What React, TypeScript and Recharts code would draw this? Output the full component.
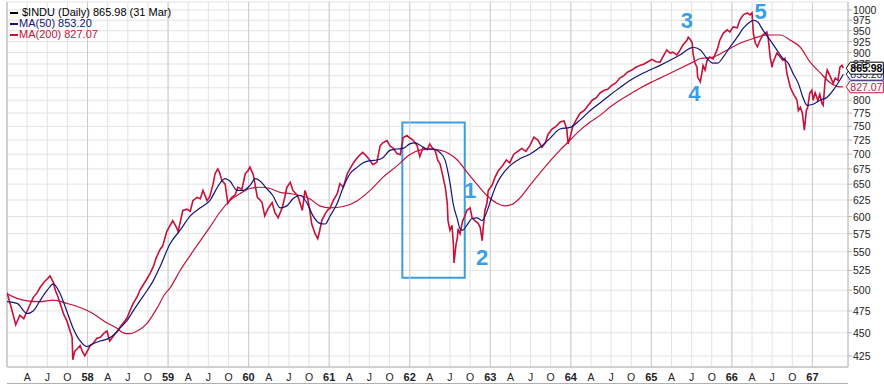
import React from 'react';
import {
  ComposedChart, Line, XAxis, YAxis, CartesianGrid, ReferenceLine, ReferenceArea, ReferenceDot,
} from 'recharts';

// x = months since Jan 1957, y = Dow Jones Industrial close
const induDaily: [number, number][] = [
  [0.0, 497], [0.6, 480], [1.3, 459], [1.9, 470], [2.5, 466], [3.0, 475], [3.4, 482], [3.9, 491],
  [4.5, 497], [4.9, 503], [5.5, 510], [6.0, 514], [6.4, 518], [6.9, 510], [7.2, 500], [7.6, 492],
  [7.9, 484], [8.5, 470], [8.9, 464], [9.4, 452], [9.7, 445], [9.8, 421], [10.1, 430], [10.4, 432],
  [10.9, 436], [11.2, 430], [11.6, 425], [12.1, 432], [12.4, 436], [12.8, 438], [13.4, 444], [13.9, 445],
  [14.5, 450], [14.9, 452], [15.3, 441], [15.8, 446], [16.1, 449], [16.5, 452], [16.8, 456], [17.4, 462],
  [17.9, 467], [18.3, 475], [18.8, 484], [19.4, 492], [19.8, 500], [20.4, 508], [20.9, 515], [21.3, 521],
  [21.8, 530], [22.2, 541], [22.8, 553], [23.2, 558], [23.8, 578], [24.3, 587], [24.7, 594], [25.2, 585],
  [25.5, 578], [25.9, 596], [26.2, 609], [26.8, 611], [27.3, 608], [27.7, 624], [28.3, 629], [28.8, 627],
  [29.2, 640], [29.8, 624], [30.2, 630], [30.7, 650], [31.0, 667], [31.4, 675], [31.7, 668], [32.0, 656],
  [32.5, 650], [32.9, 620], [33.2, 625], [33.5, 629], [34.0, 633], [34.4, 645], [35.0, 642], [35.5, 667],
  [35.9, 672], [36.2, 678], [36.7, 665], [37.3, 629], [37.7, 625], [38.0, 621], [38.4, 601], [38.9, 612],
  [39.5, 621], [39.9, 606], [40.4, 598], [41.0, 613], [41.4, 630], [41.7, 645], [42.2, 653], [42.6, 640],
  [43.1, 634], [43.4, 629], [44.0, 609], [44.4, 640], [44.8, 627], [45.1, 610], [45.4, 589], [45.9, 575],
  [46.3, 568], [46.6, 580], [46.9, 594], [47.4, 604], [47.8, 610], [48.1, 612], [48.6, 624], [49.2, 635],
  [49.6, 651], [50.1, 645], [50.7, 667], [51.1, 675], [51.6, 685], [52.2, 694], [52.6, 699], [53.0, 703],
  [53.6, 696], [54.1, 689], [54.5, 682], [55.1, 686], [55.6, 715], [56.0, 720], [56.6, 724], [57.1, 714],
  [57.5, 711], [58.1, 701], [58.6, 699], [59.0, 729], [59.6, 733], [60.0, 729], [60.5, 725], [61.1, 715],
  [61.5, 696], [62.0, 712], [62.6, 708], [63.0, 718], [63.3, 712], [63.8, 706], [64.2, 689], [64.5, 684],
  [64.8, 670], [65.3, 645], [65.6, 620], [65.7, 594], [66.0, 580], [66.3, 587], [66.5, 561], [66.6, 535],
  [66.9, 560], [67.1, 569], [67.2, 582], [67.5, 575], [67.8, 590], [67.9, 594], [68.2, 600], [68.5, 609],
  [69.0, 613], [69.3, 598], [69.7, 594], [70.2, 590], [70.5, 584], [70.8, 565], [70.9, 578], [71.2, 609],
  [71.5, 620], [71.7, 640], [72.3, 649], [72.7, 661], [73.2, 672], [73.8, 680], [74.4, 690], [74.9, 685],
  [75.5, 700], [76.1, 705], [76.7, 710], [77.3, 705], [77.9, 715], [78.5, 730], [79.1, 725], [79.7, 712],
  [80.2, 720], [80.6, 735], [81.2, 745], [81.8, 750], [82.4, 758], [83.0, 760], [83.4, 745], [83.6, 718],
  [83.9, 730], [84.3, 750], [84.8, 762], [85.4, 775], [86.0, 780], [86.6, 790], [87.2, 800], [87.8, 805],
  [88.4, 815], [89.0, 820], [89.5, 822], [90.1, 830], [90.7, 835], [91.3, 845], [91.9, 850], [92.5, 858],
  [93.1, 862], [93.7, 868], [94.3, 872], [94.9, 875], [95.5, 880], [96.1, 885], [96.7, 880], [97.3, 879],
  [97.7, 890], [98.3, 906], [98.8, 899], [99.2, 901], [99.8, 895], [100.3, 906], [100.7, 917], [101.3, 928],
  [101.5, 935], [101.8, 930], [102.1, 921], [102.2, 899], [102.5, 877], [102.8, 868], [102.9, 847], [103.3, 837],
  [103.6, 862], [103.7, 872], [104.0, 862], [104.3, 883], [104.7, 890], [105.2, 886], [105.8, 906], [106.2, 928],
  [106.7, 944], [107.3, 952], [107.7, 947], [108.2, 959], [108.8, 957], [109.2, 976], [109.7, 988], [110.3, 993],
  [110.7, 988], [111.0, 993], [111.2, 944], [111.5, 921], [111.8, 913], [112.2, 928], [112.6, 940], [113.2, 947],
  [113.4, 935], [113.7, 890], [114.0, 868], [114.1, 877], [114.7, 899], [115.2, 890], [115.6, 883], [115.9, 887],
  [116.2, 855], [116.7, 826], [117.1, 814], [117.7, 800], [117.9, 780], [118.2, 786], [118.5, 775], [118.8, 743],
  [119.1, 780], [119.3, 786], [119.6, 814], [119.9, 820], [120.1, 800], [120.4, 815], [120.8, 800], [121.1, 812],
  [121.4, 794], [121.6, 790], [121.9, 841], [122.2, 862], [122.6, 850], [123.1, 834], [123.4, 845], [123.8, 840],
  [124.1, 868], [124.4, 872], [124.6, 865.98],
];

const ma50: [number, number][] = [
  [0.0, 486], [1.5, 484], [3.0, 472], [3.9, 475], [4.9, 487], [6.0, 500], [6.9, 508], [7.9, 496],
  [8.9, 475], [9.8, 456], [10.9, 441], [11.9, 435], [12.8, 438], [13.9, 441], [14.9, 443], [15.8, 447],
  [16.8, 455], [17.9, 464], [18.8, 475], [19.8, 487], [20.9, 500], [21.8, 512], [22.8, 530], [24.3, 561],
  [25.8, 580], [27.3, 601], [28.8, 613], [30.2, 624], [31.7, 651], [32.5, 659], [33.2, 655], [34.3, 640],
  [35.2, 640], [36.2, 648], [37.0, 659], [37.7, 655], [38.7, 643], [39.6, 632], [40.7, 613], [41.7, 616],
  [42.6, 627], [43.7, 632], [44.7, 620], [45.6, 601], [46.6, 590], [47.4, 589], [48.1, 600], [49.2, 620],
  [50.1, 645], [51.1, 667], [52.2, 678], [53.0, 685], [54.1, 689], [55.1, 690], [56.0, 694], [57.1, 707],
  [58.1, 709], [59.0, 710], [60.0, 718], [60.8, 720], [61.5, 716], [62.6, 709], [63.5, 709], [64.5, 703],
  [65.3, 689], [65.6, 675], [66.0, 652], [66.5, 618], [67.1, 596], [67.5, 582], [67.9, 580], [68.5, 587],
  [69.3, 597], [70.0, 598], [70.8, 594], [71.2, 600], [71.7, 613], [72.3, 632], [73.0, 651], [73.5, 661],
  [74.9, 680], [76.4, 692], [77.9, 700], [79.4, 712], [80.9, 728], [82.4, 745], [83.9, 748], [85.4, 762],
  [86.9, 780], [88.4, 795], [89.8, 810], [91.3, 825], [92.8, 840], [94.3, 852], [95.8, 862], [97.3, 872],
  [98.8, 883], [100.3, 895], [101.8, 910], [102.2, 912], [103.3, 906], [104.3, 887], [105.2, 877], [105.9, 877],
  [106.7, 890], [107.7, 912], [108.8, 935], [109.7, 956], [110.7, 971], [111.2, 975], [111.9, 970], [112.6, 952],
  [113.7, 928], [114.7, 906], [115.6, 887], [116.4, 877], [117.1, 855], [117.9, 834], [118.6, 805], [119.2, 790],
  [120.1, 792], [121.1, 800], [122.2, 806], [123.1, 820], [124.1, 841], [124.6, 853.2],
];

const ma200: [number, number][] = [
  [0.0, 496], [1.5, 490], [3.0, 487], [4.9, 486], [6.9, 488], [8.9, 484], [10.9, 479], [12.8, 472],
  [14.9, 461], [16.4, 455], [17.3, 450], [18.3, 449], [19.4, 452], [20.9, 461], [22.4, 479], [23.5, 495],
  [24.3, 503], [25.8, 525], [27.3, 545], [28.8, 565], [30.2, 584], [31.7, 606], [33.2, 624], [34.7, 635],
  [36.2, 643], [37.7, 645], [39.2, 643], [40.7, 637], [42.2, 635], [43.7, 632], [45.1, 627], [46.6, 616],
  [48.1, 613], [50.1, 615], [52.2, 624], [54.1, 640], [56.0, 661], [58.1, 680], [60.0, 699], [61.5, 707],
  [63.0, 709], [64.5, 707], [66.0, 700], [67.1, 690], [68.5, 670], [70.0, 650], [71.5, 632], [73.0, 620],
  [74.2, 616], [75.2, 618], [76.4, 628], [77.9, 648], [79.4, 668], [80.9, 688], [82.4, 707], [83.9, 725],
  [85.4, 743], [86.9, 758], [88.4, 771], [89.8, 786], [91.3, 800], [92.8, 812], [94.3, 824], [95.8, 835],
  [97.3, 845], [99.8, 862], [102.2, 879], [103.3, 887], [105.2, 890], [107.3, 906], [109.2, 921], [111.2, 932],
  [113.2, 940], [115.2, 940], [116.7, 928], [118.2, 912], [119.6, 880], [121.1, 857], [122.6, 836], [124.1, 827],
  [124.6, 827.07],
];

const yTicks = [425, 450, 475, 500, 525, 550, 575, 600, 625, 650, 675, 700, 725, 750, 775, 800, 825, 850, 875, 900, 925, 950, 975, 1000];
const hiddenYLabels = [825, 850]; // covered by the last-value tags
const xTicks = [3, 6, 9, 12, 15, 18, 21, 24, 27, 30, 33, 36, 39, 42, 45, 48, 51, 54, 57, 60, 63, 66, 69, 72, 75, 78, 81, 84, 87, 90, 93, 96, 99, 102, 105, 108, 111, 114, 117, 120];
const xTickLabels = ['A', 'J', 'O', '58', 'A', 'J', 'O', '59', 'A', 'J', 'O', '60', 'A', 'J', 'O', '61', 'A', 'J', 'O', '62', 'A', 'J', 'O', '63', 'A', 'J', 'O', '64', 'A', 'J', 'O', '65', 'A', 'J', 'O', '66', 'A', 'J', 'O', '67'];
const yearTicks = [12, 24, 36, 48, 60, 72, 84, 96, 108, 120];

const callouts = [
  { label: '1', m: 69.0, v: 640 },
  { label: '2', m: 70.8, v: 543 },
  { label: '3', m: 101.3, v: 976 },
  { label: '4', m: 102.4, v: 814 },
  { label: '5', m: 112.3, v: 997 },
];
const boxMonths = [58.9, 68.2];
const boxValues = [515.5, 757];

const LAST_M = 124.6;
const tags = [
  { v: 827.07, text: '827.07', color: '#c0143c', bold: false },
  { v: 853.2, text: '853.20', color: '#1c1c8c', bold: false },
  { v: 865.98, text: '865.98', color: '#000', bold: true },
];

const FONT = "'Liberation Sans', Arial, sans-serif";
const ANNOT = '#3a9ee6';
const PRICE = '#c4123c';
const NAVY = '#14147a';
const toRows = (pts: [number, number][]) => pts.map(([m, v]) => ({ m, v }));

const XTick = (props: any) => {
  const { x, y, payload } = props;
  const lbl = xTickLabels[xTicks.indexOf(payload.value)] ?? '';
  const isYear = /\d/.test(lbl);
  return (
    <text x={x} y={y + 10} textAnchor="middle" fontSize={isYear ? 11 : 10.5} fontWeight={isYear ? 'bold' : 'normal'}
      fontFamily={FONT} fill="#222">{lbl}</text>
  );
};

const YTick = (props: any) => {
  const { x, y, payload } = props;
  if (hiddenYLabels.includes(payload.value)) return <g />;
  return <text x={x} y={y + 4} fontSize={10.5} fontFamily={FONT} fill="#222">{payload.value}</text>;
};

const Tag = (props: any) => {
  const { cx, cy, text, color, bold } = props;
  const x0 = cx + 3;
  return (
    <g>
      <path d={`M${x0},${cy} L${x0 + 4},${cy - 6} L${x0 + 37},${cy - 6} L${x0 + 37},${cy + 6} L${x0 + 4},${cy + 6} Z`}
        fill="#fff" stroke={color} strokeWidth={1} />
      <text x={x0 + 4} y={cy + 4} fontSize={10.5} fontWeight={bold ? 'bold' : 'normal'}
        fontFamily={FONT} fill={color}>{text}</text>
    </g>
  );
};

const legendRow = (color: string, text: string, gap: number) => (
  <div style={{ display: 'flex', alignItems: 'center', height: 11, color }}>
    <span style={{ display: 'inline-block', width: 8, height: 2, background: color, marginRight: gap }} />
    <span>{text}</span>
  </div>
);

export default function App() {
  return (
    <div style={{ position: 'absolute', left: 0, top: 0, width: 884, height: 386, overflow: 'hidden', background: '#fff' }}>
      <ComposedChart width={884} height={386} margin={{ top: 2, right: 0, bottom: 0, left: 7 }}>
        <CartesianGrid stroke="#e3e3e3" strokeWidth={1} />
        <XAxis dataKey="m" type="number" domain={[0, 125.3]} ticks={xTicks} tick={<XTick />} interval={0}
          allowDataOverflow height={19} tickSize={0} tickMargin={4} axisLine={{ stroke: '#b0b0b0' }} />
        <YAxis orientation="right" scale="log" domain={[413.5, 1020]} allowDataOverflow ticks={yTicks} interval={0}
          width={36} tickSize={4} tickMargin={1} axisLine={{ stroke: '#b8b8b8' }} tickLine={{ stroke: '#b8b8b8' }}
          tick={<YTick />} />
        {yearTicks.map((m) => (
          <ReferenceLine key={m} x={m} stroke="#cdcdcd" />
        ))}
        <ReferenceLine x={0} stroke="#b0b0b0" />

        <Line data={toRows(ma200)} dataKey="v" type="monotone" stroke={PRICE} strokeWidth={1.2} dot={false} isAnimationActive={false} />
        <Line data={toRows(induDaily)} dataKey="v" type="linear" stroke={PRICE} strokeWidth={1.6} dot={false} isAnimationActive={false} />
        <Line data={toRows(ma50)} dataKey="v" type="monotone" stroke={NAVY} strokeWidth={1.2} dot={false} isAnimationActive={false} />

        <ReferenceArea x1={boxMonths[0]} x2={boxMonths[1]} y1={boxValues[0]} y2={boxValues[1]}
          fill="none" fillOpacity={0} stroke={ANNOT} strokeWidth={2} ifOverflow="visible" />
        {callouts.map((c) => (
          <ReferenceDot key={c.label} x={c.m} y={c.v} r={0} ifOverflow="visible"
            shape={(p: any) => (
              <text x={p.cx} y={p.cy + 8} textAnchor="middle" fontSize={22} fontWeight="bold"
                fontFamily={FONT} fill={ANNOT}>{c.label}</text>
            )} />
        ))}
        {tags.map((t) => (
          <ReferenceDot key={t.text} x={LAST_M} y={t.v} r={0} ifOverflow="visible"
            shape={(p: any) => <Tag cx={p.cx} cy={p.cy} text={t.text} color={t.color} bold={t.bold} />} />
        ))}
      </ComposedChart>

      <div style={{ position: 'absolute', left: 10, top: 7, fontFamily: FONT, fontSize: 11, lineHeight: '11px' }}>
        {legendRow('#000', '$INDU (Daily) 865.98 (31 Mar)', 4)}
        {legendRow(NAVY, 'MA(50) 853.20', 1)}
        {legendRow(PRICE, 'MA(200) 827.07', 1)}
      </div>
      <div style={{ position: 'absolute', left: 7, top: 383, width: 841, borderTop: '1px solid #b0b0b0' }} />
      <div style={{ position: 'absolute', left: 22, top: 384, fontFamily: FONT, fontSize: 11, whiteSpace: 'nowrap' }}>
        <span>MACD(12,26,9) 1.907, </span><span style={{ color: '#e0203a' }}>4.711, </span><span style={{ color: '#1aa0a0' }}>2.803</span>
      </div>
    </div>
  );
}
